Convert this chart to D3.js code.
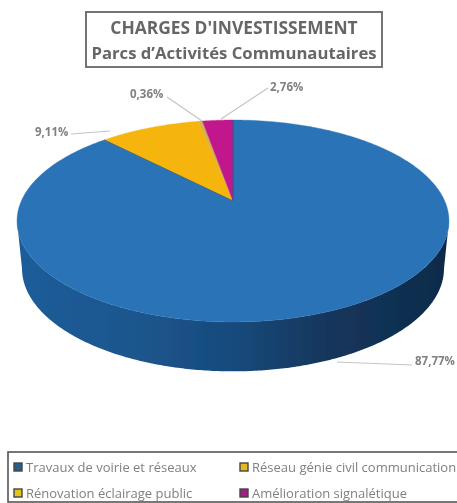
<!DOCTYPE html>
<html>
<head>
<meta charset="utf-8">
<script src="https://cdnjs.cloudflare.com/ajax/libs/d3/7.8.5/d3.min.js"></script>
<style>
  html, body { margin: 0; padding: 0; background: #fff; overflow: hidden; }
  text { font-family: "Open Sans", Lato, sans-serif; }
</style>
</head>
<body>
<div id="chart"></div>
<script>
// Chart data
var categories = [
    "Travaux de voirie et réseaux",
    "Réseau génie civil communication",
    "Rénovation éclairage public",
    "Amélioration signalétique"
];
var values = [87.77, 9.11, 0.36, 2.76];
var valueLabels = ["87,77%", "9,11%", "0,36%", "2,76%"];
var sliceColors = ["#2a73b6", "#f5b50f", "#d3b04c", "#c2188c"];
var swatchColors = ["#2c5f8a", "#e6b81e", "#e3c51f", "#a01e86"];
var titleLines = ["CHARGES D'INVESTISSEMENT", "Parcs d’Activités Communautaires"];
var titleSizes = [17.4, 16.7];

var svgWidth = 457;
var svgHeight = 503;

var svg = d3.select("#chart")
    .append("svg")
    .attr("width", svgWidth)
    .attr("height", svgHeight)
    .style("display", "block");

var defs = svg.append("defs");

// The scan is soft, so everything gets a small blur
defs.append("filter").attr("id", "soft")
    .append("feGaussianBlur").attr("stdDeviation", 0.55);
defs.append("filter").attr("id", "softText")
    .append("feGaussianBlur").attr("stdDeviation", 0.6);

var wallGradient = defs.append("linearGradient")
    .attr("id", "wall")
    .attr("gradientUnits", "userSpaceOnUse")
    .attr("x1", 17).attr("x2", 450).attr("y1", 0).attr("y2", 0);
[[0, "#1d5c99"], [0.25, "#1c578f"], [0.5, "#184a7c"], [0.72, "#13365b"], [1, "#0f2b4a"]]
    .forEach(function (s) {
        wallGradient.append("stop").attr("offset", s[0]).attr("stop-color", s[1]);
    });

// Perspective projection of the pie disc
var centerX = 233;
var apexY = 201;
var persp = 0.198;
var scaleU = d3.scaleLinear().domain([-1, 1]).range([-211.7, 211.7]);
var scaleV = d3.scaleLinear().domain([-1, 1]).range([-97, 97]);

function project(angle) {
    var u = Math.sin(angle);
    var v = -Math.cos(angle);
    var w = 1 - persp * v;
    return [centerX + scaleU(u) / w, apexY + scaleV(v) / w];
}

function projectBottom(angle) {
    var p = project(angle);
    return [centerX + (p[0] - centerX) * 0.977, apexY + 47 + (p[1] - apexY) * 1.02];
}

var line = d3.line();

var pie = d3.pie().sort(null).value(function (d) { return d; });
var arcs = pie(values);

var chart = svg.append("g").attr("filter", "url(#soft)");

// Side wall: visible part of the rim only
var wallStart = Math.acos(-persp);
var wallEnd = 2 * Math.PI - wallStart;
var wallAngles = d3.range(wallStart, wallEnd, 0.01).concat([wallEnd]);
var wallPoints = wallAngles.map(project).concat(wallAngles.slice().reverse().map(projectBottom));

chart.append("path")
    .attr("d", line(wallPoints) + "Z")
    .attr("fill", "url(#wall)");

// Top face
chart.selectAll("path.slice")
    .data(arcs)
    .enter()
    .append("path")
    .attr("class", "slice")
    .attr("d", function (d) {
        var steps = d3.range(d.startAngle, d.endAngle, 0.01).concat([d.endAngle]);
        return line([[centerX, apexY]].concat(steps.map(project))) + "Z";
    })
    .attr("fill", function (d, i) { return sliceColors[i]; })
    .attr("stroke", function (d, i) { return sliceColors[i]; })
    .attr("stroke-width", 0.4);

// Thin dark edge where the big slice meets the others
chart.append("path")
    .attr("d", line([project(arcs[0].endAngle), [centerX, apexY], project(arcs[0].startAngle)]))
    .attr("fill", "none")
    .attr("stroke", "#1f5a94")
    .attr("stroke-width", 0.9);

// Leader lines and value labels
var labelAnchors = [[415, 362], [35, 133], [130, 95], [270, 88]];
var leaders = [
    [[412, 365], [337, 362]],
    [[71, 134], [110, 131]],
    [[167, 97], [202, 121]],
    [[268, 88], [221, 119]]
];

var labels = svg.append("g").attr("filter", "url(#softText)");

labels.selectAll("path")
    .data(leaders)
    .enter()
    .append("path")
    .attr("d", function (d) { return line(d); })
    .attr("fill", "none")
    .attr("stroke", "#c4c4c4")
    .attr("stroke-width", 1.2);

labels.selectAll("text")
    .data(valueLabels)
    .enter()
    .append("text")
    .attr("x", function (d, i) { return labelAnchors[i][0]; })
    .attr("y", function (d, i) { return labelAnchors[i][1] + 3; })
    .attr("font-size", 11.5)
    .attr("font-weight", 700)
    .attr("fill", "#808080")
    .text(function (d) { return d; });

// Title box
var title = svg.append("g").attr("filter", "url(#softText)");

title.append("rect")
    .attr("x", 86).attr("y", 12)
    .attr("width", 296).attr("height", 55)
    .attr("fill", "#fff")
    .attr("stroke", "#666")
    .attr("stroke-width", 1.8);

title.selectAll("text")
    .data(titleLines)
    .enter()
    .append("text")
    .attr("x", 234)
    .attr("y", function (d, i) { return 34 + i * 24.5; })
    .attr("text-anchor", "middle")
    .attr("font-size", function (d, i) { return titleSizes[i]; })
    .attr("font-weight", 700)
    .attr("fill", "#666")
    .text(function (d) { return d; });

// Legend, its box runs past the right edge of the picture
var legend = svg.append("g").attr("filter", "url(#softText)");

legend.append("rect")
    .attr("x", 8).attr("y", 452)
    .attr("width", 470).attr("height", 50)
    .attr("fill", "#fff")
    .attr("stroke", "#555")
    .attr("stroke-width", 1.6);

var legendItems = legend.selectAll("g")
    .data(categories)
    .enter()
    .append("g")
    .attr("transform", function (d, i) {
        return "translate(" + (i % 2 === 0 ? 14 : 240) + "," + (i < 2 ? 463 : 489) + ")";
    });

legendItems.append("rect")
    .attr("width", 8).attr("height", 8)
    .attr("fill", function (d, i) { return swatchColors[i]; })
    .attr("stroke", "#444")
    .attr("stroke-width", 1.4);

legendItems.append("text")
    .attr("x", 12)
    .attr("y", 8.5)
    .attr("font-size", 13)
    .attr("fill", "#808080")
    .text(function (d) { return d; });
</script>
</body>
</html>
